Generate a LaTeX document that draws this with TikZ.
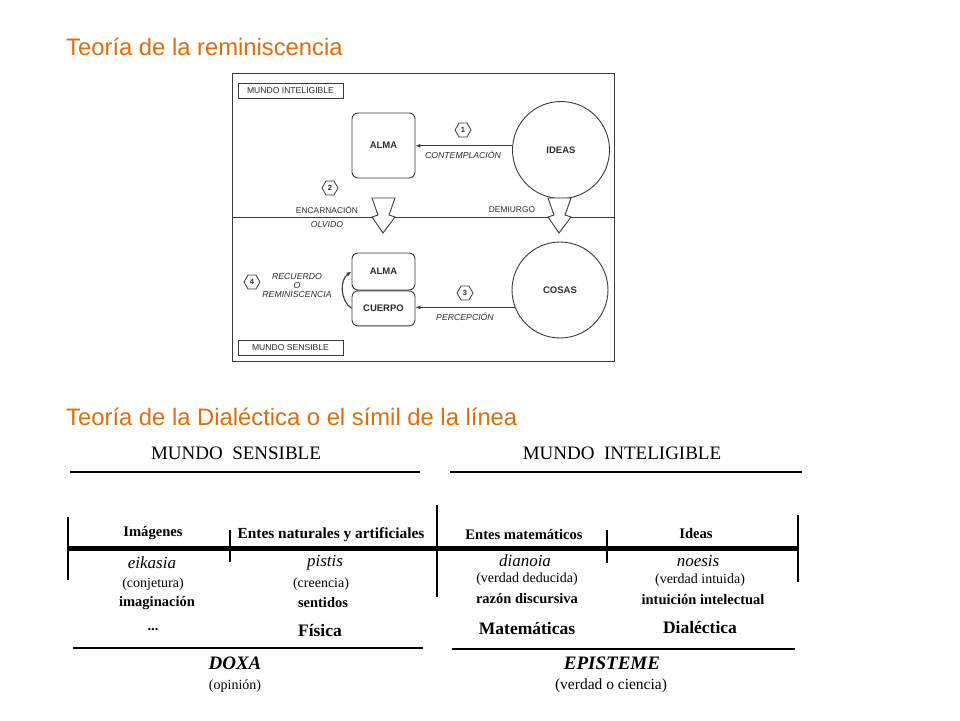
\documentclass[tikz,border=0pt]{standalone}
\usepackage{fontspec}
\setmainfont{Liberation Serif}
\newfontfamily\arial{Liberation Sans}
\usetikzlibrary{arrows.meta,positioning,shapes.geometric}
\definecolor{Title}{HTML}{E36C0A}
\definecolor{Line}{HTML}{3A3A3A}
\definecolor{Ink}{HTML}{2E2E2E}

\begin{document}
\begin{tikzpicture}[x=1pt,y=-1pt,
 t/.style={anchor=west,inner sep=0pt,text=Title,font=\arial\fontsize{23.8}{26}\selectfont},
 bx/.style={draw=Line,line width=0.9pt,rounded corners=6pt,minimum width=63pt,text=Ink,font=\arial\bfseries\fontsize{9.5}{11}\selectfont},
 cir/.style={draw=Line,line width=0.9pt,circle,inner sep=0pt,text=Ink,font=\arial\bfseries\fontsize{9.5}{11}\selectfont},
 wb/.style={draw=Line,line width=0.8pt,minimum width=105pt,minimum height=15pt,inner sep=0pt,text=Ink,font=\arial\fontsize{8.6}{10}\selectfont},
 hx/.style={draw=Line,line width=0.8pt,regular polygon,regular polygon sides=6,minimum size=16pt,inner sep=0pt,text=Ink,font=\arial\bfseries\fontsize{7.5}{8}\selectfont},
 lb/.style={inner sep=0pt,text=Ink,font=\arial\fontsize{8.4}{10}\selectfont},
 il/.style={lb,font=\arial\itshape\fontsize{8.7}{10}\selectfont},
 a/.style={-{Latex[length=5pt,width=4pt]},line width=1.1pt,draw=Line},
 hollow/.pic={\draw[draw=Line,line width=0.9pt,fill=white,line join=miter] (-11,-19)--(12,-19)--(6,-2)--(12,0)--(0,16)--(-11,0)--(-5,-2)--cycle;},
 hd/.style={inner sep=0pt,font=\fontsize{19}{22}\selectfont},
 cat/.style={inner sep=0pt,font=\bfseries\fontsize{14.6}{16}\selectfont},
 gr/.style={inner sep=0pt,font=\itshape\fontsize{17}{18}\selectfont},
 pa/.style={inner sep=0pt,font=\fontsize{14}{16}\selectfont},
 fa/.style={inner sep=0pt,font=\bfseries\fontsize{14.5}{16}\selectfont},
 ci/.style={inner sep=0pt,font=\bfseries\fontsize{17.5}{20}\selectfont},
 ep/.style={inner sep=0pt,font=\bfseries\itshape\fontsize{19}{22}\selectfont},
 ln/.style={line width=1.2pt},
 vl/.style={line width=1.3pt}
]
\fill[white] (0,0) rectangle (960,720);
\useasboundingbox (0,0) rectangle (960,720);
\node[t] (t1) at (66,47) {Teoría de la reminiscencia};
\node[t] (t2) at (66,417) {Teoría de la Dialéctica o el símil de la línea};

\draw[Line,line width=1pt] (232,73) rectangle (614,361);
\draw[Line,line width=1pt] (232,217)--(614,217);
\node[wb] (mint) at (290.5,90.5) {MUNDO INTELIGIBLE};
\node[wb] (msen) at (290.5,347.5) {MUNDO SENSIBLE};
\node[bx,minimum height=65pt] (alma1) at (383.5,145.5) {ALMA};
\node[cir,minimum size=97pt] (ideas) at (561,150) {IDEAS};
\node[bx,minimum height=37pt] (alma2) at (383.5,271.5) {ALMA};
\node[bx,minimum height=35pt,below=0pt of alma2] (cuerpo) {CUERPO};
\node[cir,minimum size=96pt] (cosas) at (560,290) {COSAS};
\draw[a] (ideas.175) -- (ideas.175-|alma1.east);
\draw[a] (cosas.201) -- (cosas.201-|cuerpo.east);
\draw[a] (cuerpo.west) to[bend left=55] (alma2.west);
\pic at (383,217) {hollow};
\pic at (559,217) {hollow};
\node[hx] (h1) at (463,130) {1};
\node[hx] (h2) at (330,188) {2};
\node[hx] (h3) at (465,293) {3};
\node[hx] (h4) at (252,282) {4};
\node[il] (contemplacion) at (463,155) {CONTEMPLACIÓN};
\node[lb] (encarnacion) at (327,210) {ENCARNACIÓN};
\node[il] (olvido) at (327,225) {OLVIDO};
\node[lb] (demiurgo) at (512,210) {DEMIURGO};
\node[il] (percepcion) at (465,317) {PERCEPCIÓN};
\node[il] (recuerdo) at (297,277) {RECUERDO};
\node[il,below=2pt of recuerdo] (o) {O};
\node[il,below=2pt of o] (reminiscencia) {REMINISCENCIA};

\node[hd] (sens) at (236,453) {MUNDO\ \ SENSIBLE};
\node[hd] (intel) at (622,453) {MUNDO\ \ INTELIGIBLE};
\draw[ln] (70,472)--(420,472); \draw[ln] (450,472)--(802,472);
\draw[line width=5pt] (68,548)--(798,548);
\draw[vl] (68,517)--(68,580); \draw[vl] (230,530)--(230,562); \draw[vl] (437,505)--(437,597);
\draw[vl] (607,530)--(607,563); \draw[vl] (798,515)--(798,582);
\node[cat] (imag) at (153,533) {Imágenes};
\node[cat,font=\bfseries\fontsize{15.4}{16}\selectfont] (entes) at (331,535) {Entes naturales y artificiales};
\node[cat] (mat) at (524,534) {Entes matemáticos};
\node[cat] (ideas2) at (696,533) {Ideas};
\node[gr] (eikasia) at (152,563) {eikasia};
\node[gr] (pistis) at (325,563) {pistis};
\node[gr] (dianoia) at (525,561) {dianoia};
\node[gr] (noesis) at (698,561) {noesis};
\node[pa] (conj) at (153,584) {(conjetura)};
\node[pa] (cree) at (321,584) {(creencia)};
\node[pa] (deduc) at (527,579) {(verdad deducida)};
\node[pa] (intu) at (700,580) {(verdad intuida)};
\node[fa] (imgn) at (157,603) {imaginación};
\node[fa] (sent) at (323,603) {sentidos};
\node[fa] (razon) at (527,599) {razón discursiva};
\node[fa] (intel2) at (703,600) {intuición intelectual};
\node[fa] (dots) at (153,630) {...};
\node[ci] (fis) at (320,630) {Física};
\node[ci] (mate) at (527,628) {Matemáticas};
\node[ci] (dial) at (700,627) {Dialéctica};
\draw[ln] (73,648)--(423,648); \draw[ln] (452,649)--(795,649);
\node[ep] (doxa) at (235,663) {DOXA};
\node[pa] (opin) at (235,686) {(opinión)};
\node[ep] (epis) at (612,663) {EPISTEME};
\node[pa,font=\fontsize{15.5}{18}\selectfont] (ciencia) at (611,686) {(verdad o ciencia)};
\end{tikzpicture}
\end{document}
